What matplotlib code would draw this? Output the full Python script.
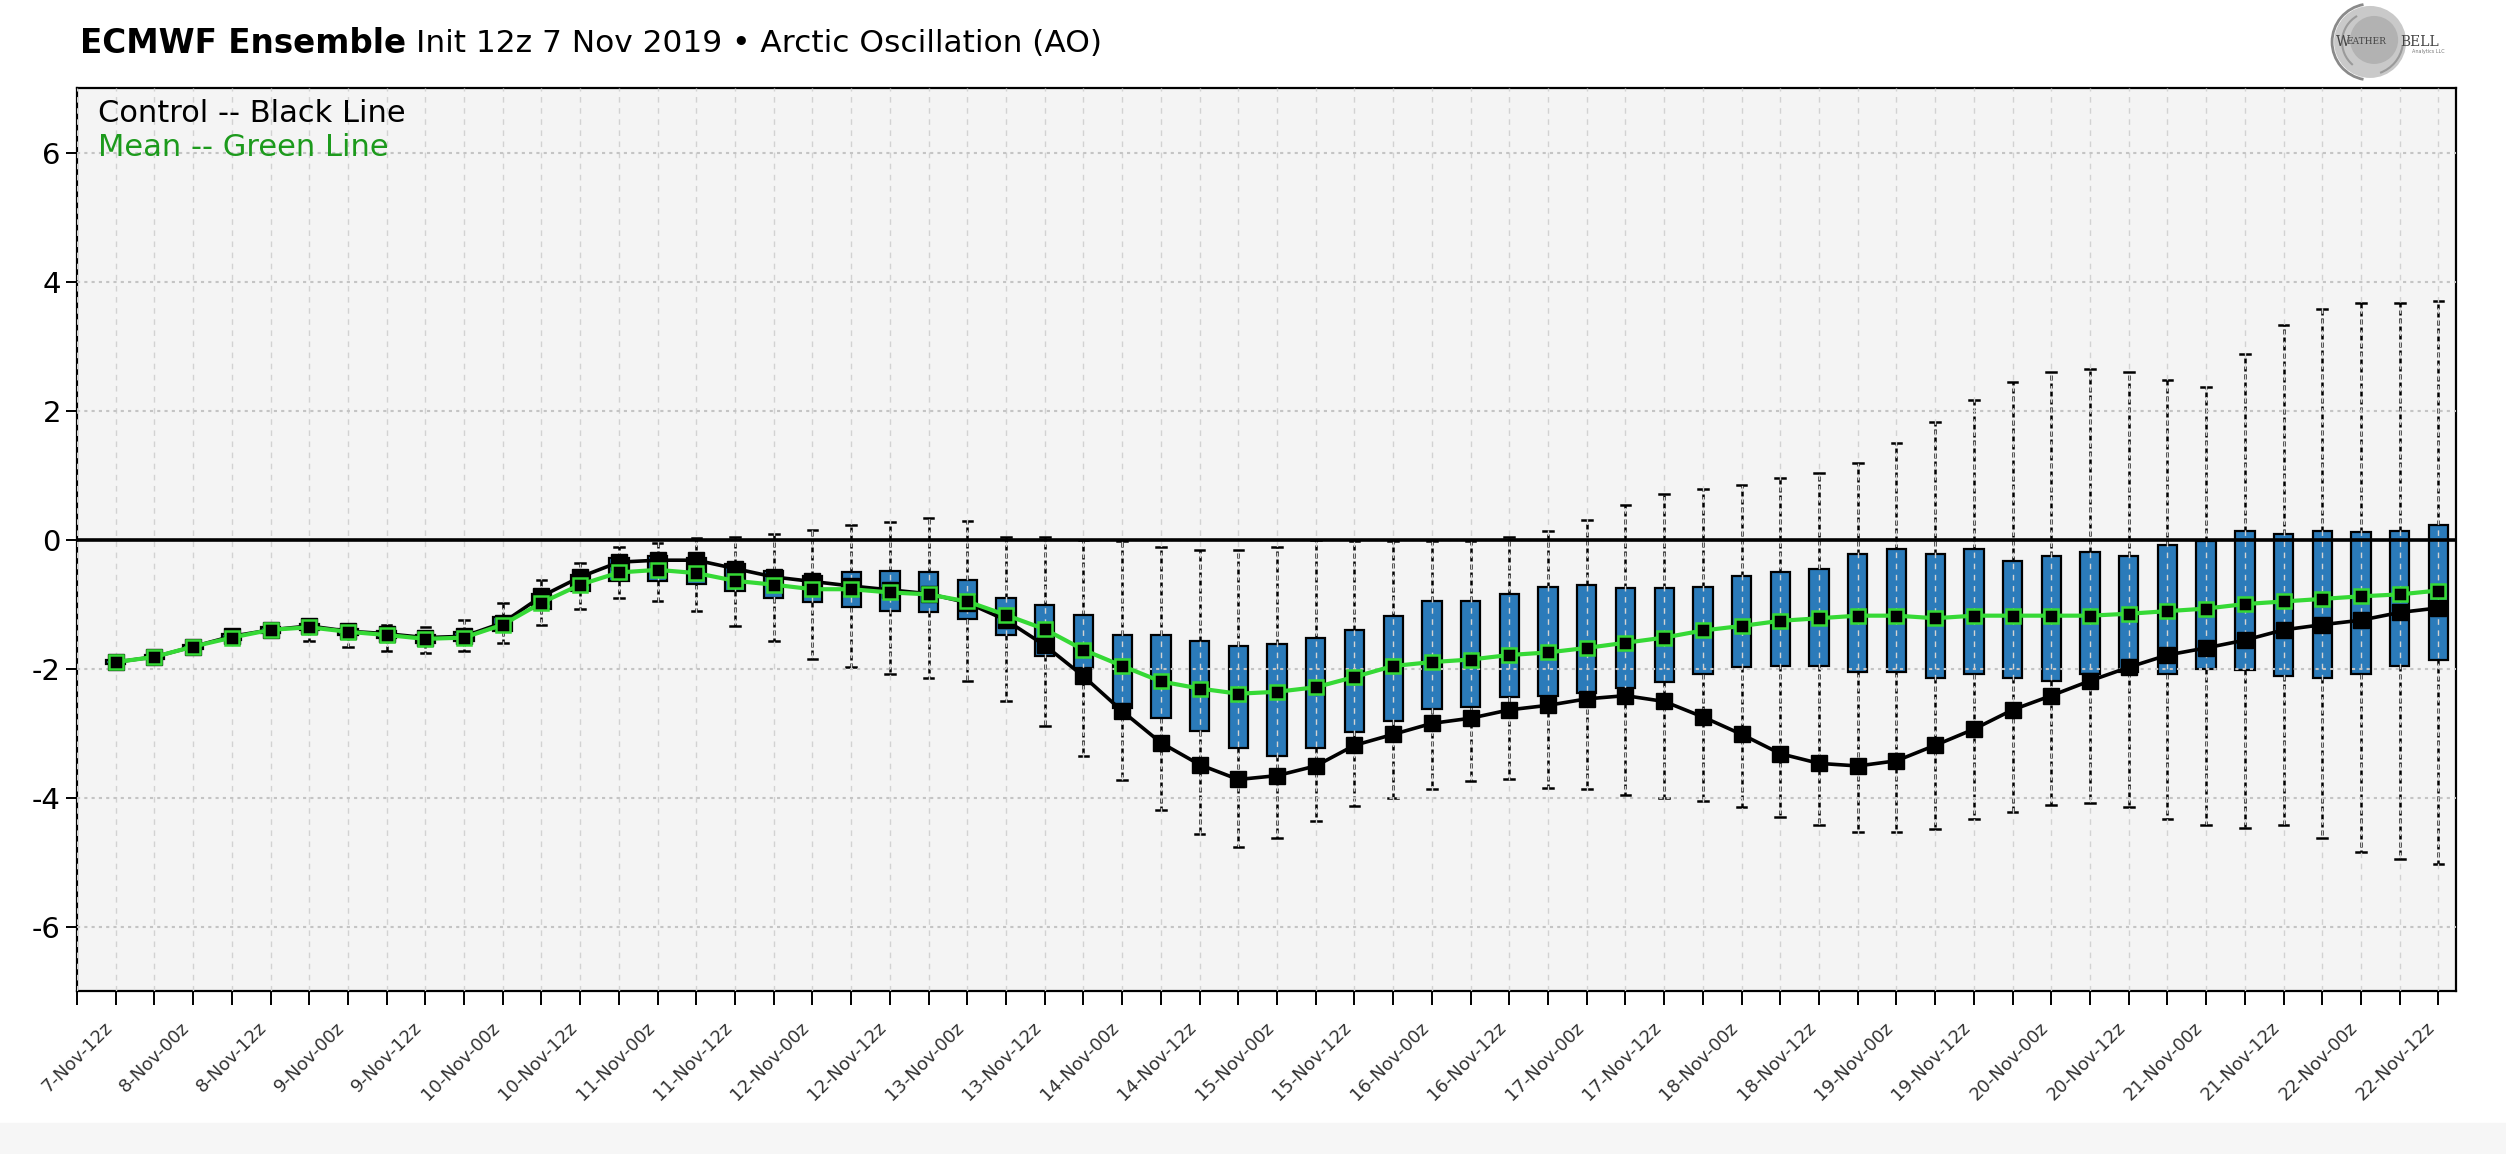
import matplotlib
matplotlib.use("Agg")
import matplotlib.pyplot as plt
from matplotlib.patches import Circle, Arc, Rectangle

plt.rcParams['font.family'] = ['DejaVu Sans']
plt.rcParams['axes.unicode_minus'] = False

# 6-hourly steps from 7-Nov-12z to 22-Nov-12z
steps = list(range(61))

tick_labels = ["7-Nov-12z", "8-Nov-00z", "8-Nov-12z", "9-Nov-00z", "9-Nov-12z",
               "10-Nov-00z", "10-Nov-12z", "11-Nov-00z", "11-Nov-12z", "12-Nov-00z",
               "12-Nov-12z", "13-Nov-00z", "13-Nov-12z", "14-Nov-00z", "14-Nov-12z",
               "15-Nov-00z", "15-Nov-12z", "16-Nov-00z", "16-Nov-12z", "17-Nov-00z",
               "17-Nov-12z", "18-Nov-00z", "18-Nov-12z", "19-Nov-00z", "19-Nov-12z",
               "20-Nov-00z", "20-Nov-12z", "21-Nov-00z", "21-Nov-12z", "22-Nov-00z",
               "22-Nov-12z"]

ens_mean = [-1.90, -1.82, -1.66, -1.52, -1.40, -1.36, -1.43, -1.48, -1.54, -1.52,
            -1.32, -0.98, -0.70, -0.51, -0.47, -0.52, -0.64, -0.70, -0.77, -0.77,
            -0.82, -0.85, -0.96, -1.17, -1.39, -1.71, -1.96, -2.20, -2.31, -2.39,
            -2.36, -2.29, -2.13, -1.96, -1.90, -1.86, -1.79, -1.75, -1.68, -1.60,
            -1.52, -1.41, -1.34, -1.26, -1.22, -1.18, -1.18, -1.22, -1.18, -1.18,
            -1.18, -1.18, -1.15, -1.11, -1.07, -1.00, -0.96, -0.92, -0.88, -0.85,
            -0.79]

control = [-1.90, -1.82, -1.66, -1.50, -1.40, -1.34, -1.42, -1.46, -1.52, -1.50,
           -1.29, -0.88, -0.58, -0.35, -0.32, -0.32, -0.45, -0.58, -0.65, -0.72,
           -0.78, -0.84, -0.98, -1.25, -1.64, -2.12, -2.66, -3.15, -3.49, -3.72,
           -3.66, -3.51, -3.19, -3.02, -2.85, -2.77, -2.64, -2.57, -2.47, -2.42,
           -2.51, -2.75, -3.02, -3.32, -3.47, -3.51, -3.43, -3.19, -2.94, -2.64,
           -2.42, -2.19, -1.98, -1.79, -1.68, -1.56, -1.40, -1.32, -1.25, -1.13,
           -1.06]

box_lo = [-1.93, -1.85, -1.69, -1.56, -1.45, -1.41, -1.48, -1.53, -1.60, -1.58,
          -1.42, -1.07, -0.80, -0.64, -0.64, -0.69, -0.80, -0.90, -0.97, -1.04,
          -1.10, -1.12, -1.23, -1.48, -1.80, -1.99, -2.61, -2.77, -2.97, -3.23,
          -3.35, -3.23, -2.98, -2.82, -2.62, -2.59, -2.44, -2.42, -2.38, -2.30,
          -2.21, -2.09, -1.98, -1.96, -1.96, -2.06, -2.06, -2.15, -2.09, -2.14,
          -2.20, -2.08, -2.06, -2.09, -2.00, -2.02, -2.11, -2.15, -2.09, -1.96,
          -1.86]

box_hi = [-1.87, -1.79, -1.63, -1.47, -1.35, -1.31, -1.38, -1.42, -1.48, -1.44,
          -1.20, -0.84, -0.55, -0.29, -0.26, -0.28, -0.38, -0.48, -0.56, -0.50,
          -0.48, -0.50, -0.63, -0.90, -1.02, -1.17, -1.48, -1.48, -1.58, -1.65,
          -1.62, -1.53, -1.41, -1.18, -0.96, -0.96, -0.85, -0.73, -0.70, -0.75,
          -0.75, -0.73, -0.57, -0.51, -0.45, -0.23, -0.15, -0.23, -0.15, -0.34,
          -0.25, -0.20, -0.25, -0.08, -0.02, 0.14, 0.08, 0.14, 0.11, 0.14,
          0.23]

whisker_lo = [-1.95, -1.87, -1.72, -1.60, -1.50, -1.57, -1.66, -1.73, -1.76, -1.73,
              -1.61, -1.32, -1.07, -0.91, -0.95, -1.11, -1.34, -1.58, -1.85, -1.98,
              -2.09, -2.14, -2.19, -2.50, -2.89, -3.35, -3.73, -4.19, -4.57, -4.77,
              -4.63, -4.36, -4.13, -4.00, -3.87, -3.75, -3.72, -3.85, -3.87, -3.96,
              -4.00, -4.05, -4.15, -4.30, -4.42, -4.53, -4.53, -4.49, -4.34, -4.23,
              -4.11, -4.09, -4.15, -4.34, -4.43, -4.47, -4.43, -4.62, -4.85, -4.96,
              -5.03]

whisker_hi = [-1.85, -1.77, -1.60, -1.43, -1.32, -1.26, -1.35, -1.32, -1.35, -1.24,
              -0.98, -0.63, -0.37, -0.12, -0.06, 0.03, 0.04, 0.08, 0.15, 0.23,
              0.27, 0.34, 0.29, 0.04, 0.04, 0.00, -0.03, -0.12, -0.16, -0.16,
              -0.12, 0.00, -0.02, -0.02, -0.02, -0.02, 0.04, 0.13, 0.30, 0.53,
              0.70, 0.79, 0.85, 0.96, 1.03, 1.18, 1.49, 1.83, 2.17, 2.45,
              2.59, 2.64, 2.59, 2.47, 2.36, 2.87, 3.32, 3.58, 3.66, 3.66,
              3.70]

fig = plt.figure(figsize=(25.06, 11.54), dpi=100)
fig.patches.append(Rectangle((0, 0), 1, 0.027, transform=fig.transFigure,
                             color='#f6f6f6', zorder=-1))

ax = fig.add_axes([0.0307, 0.1412, 0.9493, 0.7825])
ax.set_facecolor('#f4f4f4')

stats = []
for m, a, b, lo, hi in zip(ens_mean, box_lo, box_hi, whisker_lo, whisker_hi):
    stats.append(dict(med=m, q1=a, q3=b, whislo=lo, whishi=hi, fliers=[]))

ax.bxp(stats, positions=steps, widths=0.5, capwidths=0.25, patch_artist=True,
       showfliers=False,
       boxprops=dict(facecolor='#2b7bba', edgecolor='black', linewidth=1.6),
       whiskerprops=dict(color='black', linestyle=(0, (2.0, 1.2)), linewidth=1.8),
       capprops=dict(color='black', linewidth=1.8),
       medianprops=dict(linewidth=0),
       zorder=2)

ax.axhline(0, color='black', linewidth=2.6, zorder=3)

ax.plot(steps, control, color='black', linewidth=2.6, marker='s',
        markersize=11, markerfacecolor='black', markeredgecolor='black', zorder=5)
ax.plot(steps, ens_mean, color='#35d935', linewidth=3.0, marker='s',
        markersize=9.5, markerfacecolor='black', markeredgecolor='#35d935',
        markeredgewidth=1.8, zorder=6)

ax.set_xlim(-1, 60.45)
ax.set_ylim(-7, 7)

xt = list(range(-1, 61))
xl = [tick_labels[i // 2] if i >= 0 and i % 2 == 0 else '' for i in xt]
ax.set_xticks(xt)
ax.set_xticklabels(xl, rotation=45, ha='right', fontsize=13, color='#333333')
ax.set_yticks([-6, -4, -2, 0, 2, 4, 6])
ax.tick_params(axis='y', labelsize=21, length=8, width=1.4, direction='out')
ax.tick_params(axis='x', length=10, width=1.4, direction='out', pad=10)

ax.set_axisbelow(False)
ax.xaxis.grid(True, linestyle=(0, (4, 4)), color='#d2d2d2', linewidth=1.0)
ax.yaxis.grid(True, linestyle=(0, (1.5, 2)), color='#c4c4c4', linewidth=1.5)

for s in ax.spines.values():
    s.set_linewidth(1.6)
    s.set_color('black')

ax.text(0.009, 0.988, 'Control -- Black Line', transform=ax.transAxes,
        va='top', ha='left', fontsize=22, color='black', zorder=7)
ax.text(0.009, 0.950, 'Mean -- Green Line', transform=ax.transAxes,
        va='top', ha='left', fontsize=22, color='#1c9a1c', zorder=7)

# title: bold part then normal part
t1 = fig.text(0.032, 0.9627, 'ECMWF Ensemble', fontsize=23.5, fontweight='bold',
              va='center', ha='left')
fig.canvas.draw()
bb = t1.get_window_extent(renderer=fig.canvas.get_renderer())
x_next = bb.x1 / fig.bbox.width + 0.004
fig.text(x_next, 0.9627, 'Init 12z 7 Nov 2019 \u2022 Arctic Oscillation (AO)',
         fontsize=22.5, va='center', ha='left')

# logo
lg = fig.add_axes([0.929, 0.929, 0.0551, 0.0693])
lg.set_xlim(0, 138)
lg.set_ylim(0, 80)
lg.axis('off')
lg.add_patch(Circle((42, 40), 36, facecolor='#c9c9c9', edgecolor='none'))
lg.add_patch(Circle((46, 42), 24, facecolor='#b2b2b2', edgecolor='none'))
lg.add_patch(Arc((42, 40), 76, 76, theta1=100, theta2=260, color='#8a8a8a', lw=2))
lg.add_patch(Arc((44, 40), 60, 60, theta1=120, theta2=230, color='#9a9a9a', lw=1.5))
lg.add_patch(Arc((40, 42), 70, 70, theta1=290, theta2=350, color='#9a9a9a', lw=1.5))
lg.text(8, 40, 'W', fontsize=10, family='DejaVu Serif', color='#444444', va='center')
lg.text(18, 40, 'EATHER', fontsize=6.5, family='DejaVu Serif', color='#444444', va='center')
lg.text(72, 40, 'BELL', fontsize=10, family='DejaVu Serif', color='#444444', va='center')
lg.text(84, 30, 'Analytics LLC', fontsize=3.5, color='#777777', va='center')

fig.savefig('out.png', dpi=100)
